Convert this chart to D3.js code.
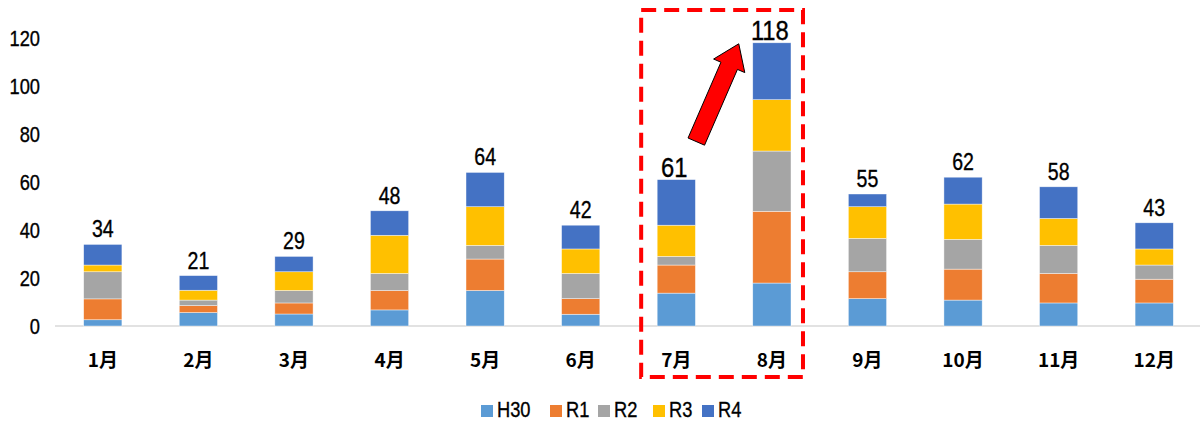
<!DOCTYPE html>
<html>
<head>
<meta charset="utf-8">
<script src="https://cdn.jsdelivr.net/npm/d3@7"></script>
<style>
  body { margin: 0; background: #fff; }
  svg { display: block; }
</style>
</head>
<body>
<svg id="chart" width="1200" height="421"></svg>
<script>
const months = ["1月","2月","3月","4月","5月","6月","7月","8月","9月","10月","11月","12月"];
const seriesNames = ["H30","R1","R2","R3","R4"];
const H30 = [2.6, 5.6, 5.0, 6.7, 14.8, 4.9, 13.7, 17.9, 11.4, 10.8, 9.6, 9.6];
const R1  = [8.7, 2.9, 4.6, 8.1, 13.1, 6.5, 11.7, 29.9, 11.2, 12.9, 12.3, 9.9];
const R2  = [11.3, 2.3, 5.2, 7.1, 5.7, 10.5, 3.6, 25.1, 13.9, 12.4, 11.7, 5.9];
const R3  = [2.8, 4.1, 7.8, 15.9, 16.1, 10.2, 13.0, 21.4, 13.2, 14.7, 11.2, 6.7];
const R4  = [8.6, 6.1, 6.4, 10.2, 14.3, 9.9, 19.0, 23.7, 5.3, 11.2, 13.2, 10.9];
const totals = [34, 21, 29, 48, 64, 42, 61, 118, 55, 62, 58, 43];
const yTicks = [0, 20, 40, 60, 80, 100, 120];
const highlighted = ["7月", "8月"];
const colors = ["#5B9BD5", "#ED7D31", "#A5A5A5", "#FFC000", "#4472C4"];

const seriesValues = [H30, R1, R2, R3, R4];
const rows = months.map((m, i) => {
  const r = { month: m };
  seriesNames.forEach((s, k) => r[s] = seriesValues[k][i]);
  return r;
});

const svg = d3.select("#chart");
const latin = "'Liberation Sans', Arial, sans-serif";
const cjk = "'Noto Sans CJK JP', 'Noto Sans', sans-serif";
const SX = 0.85; // horizontal condensing to mimic a narrow font

function styleLatin(sel, size) {
  sel.attr("font-family", latin).attr("font-size", size).attr("fill", "#000")
     .attr("stroke", "#000").attr("stroke-width", 0.35);
}

const x = d3.scaleBand().domain(months).range([55, 1202]).paddingInner(0.6).paddingOuter(0.3);
const y = d3.scaleLinear().domain([0, 120]).range([326, 38]);

const stack = d3.stack().keys(seriesNames)(rows);

// baseline axis line
svg.append("line")
  .attr("x1", 55).attr("x2", 1200)
  .attr("y1", y(0)).attr("y2", y(0))
  .attr("stroke", "#d9d9d9").attr("stroke-width", 1.5);

// bars
svg.append("g").selectAll("g").data(stack).join("g")
  .attr("fill", (d, i) => colors[i])
  .selectAll("rect").data(d => d).join("rect")
  .attr("x", d => x(d.data.month))
  .attr("width", x.bandwidth())
  .attr("y", d => y(d[1]))
  .attr("height", d => y(d[0]) - y(d[1]))
  .attr("stroke", "#ffffff").attr("stroke-width", 0.6).attr("stroke-opacity", 0.7);

// y axis labels
const yAxis = d3.axisLeft(y).tickValues(yTicks).tickSize(0).tickPadding(0);
const yg = svg.append("g").attr("transform", "translate(40,0)").call(yAxis);
yg.select(".domain").remove();
yg.selectAll("text")
  .attr("x", 0).attr("dy", null).attr("y", 7.8)
  .attr("transform", `scale(${SX},1)`)
  .call(styleLatin, 21.5);

// x axis labels
const xAxis = d3.axisBottom(x).tickSize(0).tickPadding(0);
const xg = svg.append("g").attr("transform", "translate(0,350)").call(xAxis);
xg.select(".domain").remove();
xg.selectAll("text")
  .attr("dy", null).attr("y", 17)
  .attr("font-family", cjk).attr("font-size", 19).attr("font-weight", "bold").attr("fill", "#000");

// total labels
svg.append("g").selectAll("text").data(months).join("text")
  .attr("transform", (m, i) => {
    const cx = x(m) + x.bandwidth() / 2 - (highlighted.includes(m) ? 2 : 0);
    const cy = y(totals[i]) - (highlighted.includes(m) ? 3 : 7);
    return `translate(${cx},${cy}) scale(${SX},1)`;
  })
  .attr("text-anchor", "middle")
  .each(function (m) {
    d3.select(this).call(styleLatin, highlighted.includes(m) ? 28 : 23);
  })
  .text((m, i) => totals[i]);

// dashed highlight rectangle around 7月 and 8月
const hx0 = x(highlighted[0]) - 16;
const hx1 = x(highlighted[1]) + x.bandwidth() + 12;
svg.append("rect")
  .attr("x", hx0).attr("y", 10)
  .attr("width", hx1 - hx0).attr("height", 367)
  .attr("fill", "none").attr("stroke", "#ff0000")
  .attr("stroke-width", 4).attr("stroke-dasharray", "15,8");

// arrow from 7月 to 8月
const i7 = months.indexOf("7月"), i8 = months.indexOf("8月");
const tail = [x("7月") + x.bandwidth() / 2 + 20, y(totals[i7]) - 38];
const tip = [x("8月") - 14, y(totals[i8]) + 1];
const dx = tip[0] - tail[0], dy = tip[1] - tail[1];
const L = Math.hypot(dx, dy);
const ux = dx / L, uy = dy / L, px = -uy, py = ux;
const shaftW = 9, headW = 17, headL = 24;
const pt = (a, b) => [tail[0] + ux * a + px * b, tail[1] + uy * a + py * b];
const arrowPts = [
  pt(0, -shaftW), pt(L - headL, -shaftW), pt(L - headL, -headW),
  pt(L, 0), pt(L - headL, headW), pt(L - headL, shaftW), pt(0, shaftW)
];
svg.append("polygon")
  .attr("points", arrowPts.map(p => p.join(",")).join(" "))
  .attr("fill", "#ff0000").attr("stroke", "#000").attr("stroke-width", 1);

// legend
const legend = svg.append("g").attr("transform", "translate(481,0)");
const legendOffsets = [0, 69, 117, 172, 221];
seriesNames.forEach((s, i) => {
  const g = legend.append("g").attr("transform", `translate(${legendOffsets[i]},0)`);
  g.append("rect").attr("x", 0).attr("y", 405).attr("width", 12).attr("height", 12).attr("fill", colors[i]);
  g.append("text").attr("transform", `translate(16,417) scale(${SX},1)`)
    .call(styleLatin, 21.5).text(s);
});
</script>
</body>
</html>
